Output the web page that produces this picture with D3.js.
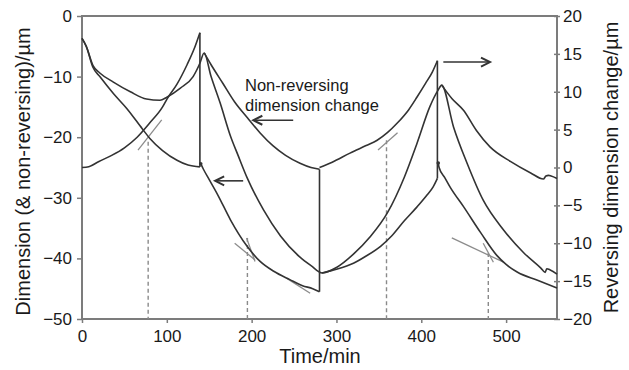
<!DOCTYPE html>
<html>
<head>
<meta charset="utf-8">
<script src="https://cdn.jsdelivr.net/npm/d3@7"></script>
<style>
  body { margin: 0; background: #fff; }
  text { font-family: "Liberation Sans", Arial, Helvetica, sans-serif; fill: #1a1a1a; }
</style>
</head>
<body>
<div id="chart"></div>
<script>
// ---- data ----
// total dimension change, left axis (um), one continuous trace
const totalT = [0, 5, 13, 21, 37, 57, 76, 92, 100, 116, 131, 139, 144, 152, 163, 175, 184, 195, 214, 234, 257, 270, 283,
                300, 320, 340, 360, 380, 395, 410, 420, 424, 438, 454, 473, 497, 521, 541, 546, 548, 552, 560]
const totalV = [-3.7, -5.0, -8.2, -9.4, -10.9, -12.5, -13.7, -13.9, -13.4, -11.9, -10.0, -7.8, -6.1, -9.9, -14.4, -19.8, -23.0, -26.8, -32.0, -36.3, -39.8, -41.2, -42.4,
                -41.5, -39.3, -36.4, -32.5, -26.6, -21.0, -15.0, -12.2, -11.4, -18.3, -24.3, -30.4, -35.3, -39.1, -41.6, -42.3, -41.7, -41.9, -42.6]

// non-reversing dimension change, left axis, one piece per half cycle
const nr1T = [0, 5, 13, 21, 37, 53, 71, 80, 95, 112, 125, 139]
const nr1V = [-3.7, -5.0, -8.5, -10.0, -12.8, -15.3, -18.6, -20.2, -22.2, -23.8, -24.6, -24.9]
const nr2T = [144, 152, 166, 180, 195, 210, 225, 240, 257, 270, 280]
const nr2V = [-6.1, -8.0, -11.1, -14.2, -16.8, -19.3, -21.4, -23.0, -24.3, -25.0, -25.3]
const nr3T = [283, 300, 320, 335, 352, 365, 380, 395, 407, 414, 419]
const nr3V = [-42.4, -41.8, -40.8, -39.6, -38.0, -36.3, -33.8, -31.5, -29.5, -28.2, -26.8]
const nr4T = [424, 436, 450, 465, 481, 505, 529, 544, 547, 550, 553, 560]
const nr4V = [-11.4, -13.6, -15.6, -18.9, -21.6, -24.0, -25.9, -26.9, -26.4, -26.3, -26.4, -26.8]

// reversing dimension change, right axis, one piece per half cycle
const r1T = [0, 8, 20, 35, 50, 65, 80, 95, 100, 112, 124, 132, 139]
const r1V = [0.0, 0.1, 0.8, 1.6, 2.6, 4.0, 5.9, 8.0, 9.0, 11.0, 13.6, 15.6, 17.8]
const r2T = [140, 143, 150, 160, 175, 194, 210, 226, 245, 260, 272, 280]
const r2V = [0.5, -0.2, -1.6, -3.6, -6.9, -10.3, -12.4, -13.7, -14.8, -15.6, -16.0, -16.4]
const r3T = [280, 295, 316, 335, 348, 360, 372, 385, 395, 405, 413, 419]
const r3V = [0.0, 0.7, 1.9, 2.9, 3.6, 4.6, 5.9, 7.6, 9.3, 11.1, 12.6, 14.1]
const r4T = [420, 421, 428, 434, 450, 470, 489, 500, 513, 537, 560]
const r4V = [0.6, 0.0, -1.4, -2.6, -5.2, -8.6, -11.6, -12.8, -13.8, -14.9, -15.9]

// tangent construction lines (right axis units) and dashed markers
const tanT0 = [66, 180, 194, 241, 349, 436, 473]
const tanR0 = [2.3, -10.0, -9.3, -14.6, 2.3, -9.3, -10.0]
const tanT1 = [94, 204, 204, 269, 372, 497, 485]
const tanR1 = [6.3, -12.2, -12.4, -16.6, 4.6, -12.5, -12.5]
const dashT = [78, 195, 359, 479]
const dashTopR = [3.4, -9.3, 3.6, -11.3]

const leftTicks = [0, -10, -20, -30, -40, -50]
const rightTicks = [20, 15, 10, 5, 0, -5, -10, -15, -20]
const xTicks = [0, 100, 200, 300, 400, 500]

// ---- chart ----
const width = 629
const height = 370
const margin = { top: 16, right: 72, bottom: 51, left: 82 }

const svg = d3.select('#chart').append('svg')
    .attr('width', width)
    .attr('height', height)

const x = d3.scaleLinear().domain([0, 560]).range([margin.left, width - margin.right])
const yL = d3.scaleLinear().domain([-50, 0]).range([height - margin.bottom, margin.top])
const yR = d3.scaleLinear().domain([-20, 20]).range([height - margin.bottom, margin.top])

const axisColor = '#7c7c7c'
const inkColor = '#333'

// axes
const gx = svg.append('g')
    .attr('transform', 'translate(0,' + (height - margin.bottom) + ')')
    .call(d3.axisBottom(x).tickValues(xTicks).tickSize(4).tickPadding(7))
const gl = svg.append('g')
    .attr('transform', 'translate(' + margin.left + ',0)')
    .call(d3.axisLeft(yL).tickValues(leftTicks).tickSize(5).tickPadding(5))
const gr = svg.append('g')
    .attr('transform', 'translate(' + (width - margin.right) + ',0)')
    .call(d3.axisRight(yR).tickValues(rightTicks).tickSize(3).tickPadding(3))
gr.selectAll('.tick line').attr('x1', -3)

for (let g of [gx, gl, gr]) {
    g.select('.domain').remove()
    g.selectAll('.tick line').attr('stroke', axisColor).attr('stroke-width', 1.5)
    g.selectAll('.tick text').attr('font-size', 17).attr('fill', '#1a1a1a')
        .style('font-family', '"Liberation Sans", Arial, sans-serif')
}

// frame
svg.append('rect')
    .attr('x', x(0)).attr('y', yL(0))
    .attr('width', x(560) - x(0)).attr('height', yL(-50) - yL(0))
    .attr('fill', 'none').attr('stroke', axisColor).attr('stroke-width', 2)

// dashed markers
svg.selectAll('line.dash')
    .data(dashT)
    .enter()
    .append('line')
    .attr('class', 'dash')
    .attr('x1', function (d) { return x(d) })
    .attr('x2', function (d) { return x(d) })
    .attr('y1', function (d, i) { return yR(dashTopR[i]) })
    .attr('y2', yR(-20))
    .attr('stroke', '#8a8a8a').attr('stroke-width', 1.4)
    .attr('stroke-dasharray', '4,3')

// tangent lines
svg.selectAll('line.tan')
    .data(tanT0)
    .enter()
    .append('line')
    .attr('class', 'tan')
    .attr('x1', function (d) { return x(d) })
    .attr('y1', function (d, i) { return yR(tanR0[i]) })
    .attr('x2', function (d, i) { return x(tanT1[i]) })
    .attr('y2', function (d, i) { return yR(tanR1[i]) })
    .attr('stroke', '#8c8c8c').attr('stroke-width', 1.3)

const zip = (ts, vs) => ts.map((t, i) => [t, vs[i]])
const lineL = d3.line().x(d => x(d[0])).y(d => yL(d[1])).curve(d3.curveMonotoneX)
const lineR = d3.line().x(d => x(d[0])).y(d => yR(d[1])).curve(d3.curveMonotoneX)

const drawPath = function (d, gen) {
    svg.append('path')
        .attr('d', gen(d))
        .attr('fill', 'none')
        .attr('stroke', inkColor)
        .attr('stroke-width', 1.6)
        .attr('stroke-linejoin', 'round')
}

drawPath(zip(totalT, totalV), lineL)
const nrPieces = [zip(nr1T, nr1V), zip(nr2T, nr2V), zip(nr3T, nr3V), zip(nr4T, nr4V)]
const rPieces = [zip(r1T, r1V), zip(r2T, r2V), zip(r3T, r3V), zip(r4T, r4V)]
nrPieces.forEach(p => drawPath(p, lineL))
rPieces.forEach(p => drawPath(p, lineR))

// vertical jumps: end of each reversing piece down/up to the end of the matching non-reversing piece
for (let i = 0; i < 3; i++) {
    let rEnd = rPieces[i][rPieces[i].length - 1]
    let nrEnd = nrPieces[i][nrPieces[i].length - 1]
    svg.append('line')
        .attr('x1', x(rEnd[0])).attr('x2', x(rEnd[0]))
        .attr('y1', yR(rEnd[1])).attr('y2', yL(nrEnd[1]))
        .attr('stroke', inkColor).attr('stroke-width', 1.6)
}
// small start dots of the falling reversing pieces
for (let p of [rPieces[1], rPieces[3]]) {
    svg.append('circle')
        .attr('cx', x(p[0][0])).attr('cy', yR(p[0][1])).attr('r', 1.8)
        .attr('fill', inkColor)
}

// arrows (left-axis units)
const arrowFrom = [249, 190, 426]
const arrowTo = [202, 157, 481]
const arrowV = [-17.2, -27.2, -7.6]
arrowFrom.forEach(function (t0, i) {
    let x0 = x(t0), x1 = x(arrowTo[i]), yy = yL(arrowV[i])
    let dir = x1 > x0 ? -1 : 1
    svg.append('line')
        .attr('x1', x0).attr('x2', x1).attr('y1', yy).attr('y2', yy)
        .attr('stroke', inkColor).attr('stroke-width', 1.6)
    svg.append('path')
        .attr('d', 'M' + (x1 + dir * 9) + ',' + (yy - 4.5) + 'L' + x1 + ',' + yy + 'L' + (x1 + dir * 9) + ',' + (yy + 4.5))
        .attr('fill', 'none').attr('stroke', inkColor).attr('stroke-width', 2)
})

// annotation
const note = svg.append('text').attr('font-size', 16.5)
note.append('tspan').attr('x', 245).attr('y', 91).text('Non-reversing')
note.append('tspan').attr('x', 245).attr('y', 111).text('dimension change')

// axis titles
svg.append('text')
    .attr('transform', 'translate(30,' + ((margin.top + height - margin.bottom) / 2 + 4) + ') rotate(-90)')
    .attr('text-anchor', 'middle').attr('font-size', 20)
    .text('Dimension (& non-reversing)/\u00b5m')
svg.append('text')
    .attr('transform', 'translate(618,' + ((margin.top + height - margin.bottom) / 2) + ') rotate(-90)')
    .attr('text-anchor', 'middle').attr('font-size', 20)
    .text('Reversing dimension change/\u00b5m')
svg.append('text')
    .attr('x', 320).attr('y', 363)
    .attr('text-anchor', 'middle').attr('font-size', 20)
    .text('Time/min')
</script>
</body>
</html>
